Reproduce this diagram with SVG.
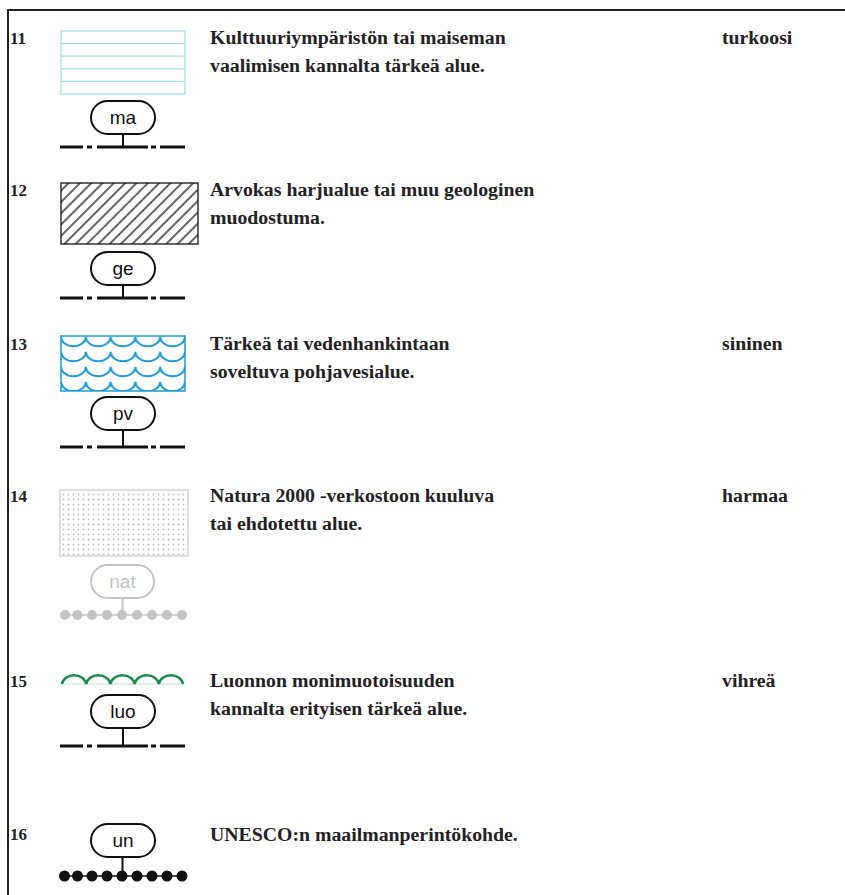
<svg xmlns="http://www.w3.org/2000/svg" width="845" height="895" viewBox="0 0 845 895">
<style>
.t{font-family:"Liberation Serif",serif;font-weight:bold;font-size:19.8px;fill:#222}
.n{font-family:"Liberation Serif",serif;font-weight:bold;font-size:17px;fill:#222}
.p{font-family:"Liberation Sans",Arial,sans-serif;font-size:19px;fill:#111;text-anchor:middle}
.pill{fill:#fff;stroke:#111;stroke-width:2}
.stem{stroke:#111;stroke-width:2}
.dd{stroke:#111;stroke-width:3;fill:none}
</style>
<defs>
<pattern id="hatch" patternUnits="userSpaceOnUse" width="8" height="8" patternTransform="rotate(45)">
<line x1="2" y1="-1" x2="2" y2="9" stroke="#111" stroke-width="1.3"/>
</pattern>
<pattern id="wave" patternUnits="userSpaceOnUse" x="61" y="336" width="24.8" height="15">
<path d="M0 0.8 A12.4 9.5 0 0 0 24.8 0.8" fill="none" stroke="#1e9ad6" stroke-width="2"/>
</pattern>
<pattern id="dots" patternUnits="userSpaceOnUse" x="61" y="492" width="5" height="5">
<circle cx="2.5" cy="2.5" r="0.9" fill="#bdbdbd"/>
</pattern>
</defs>
<rect width="845" height="895" fill="#fff"/>
<g id="frame" stroke="#222" fill="none">
<line x1="8" y1="10" x2="845" y2="10" stroke-width="2"/>
<line x1="8" y1="9" x2="8" y2="895" stroke-width="2"/>
</g>

<g id="row11">
<text class="n" x="10" y="44">11</text>
<rect x="61" y="31" width="124" height="63" fill="#fff" stroke="#a8dde2" stroke-width="1.3"/>
<g stroke="#a8dde2" stroke-width="1.3"><line x1="61" y1="43.6" x2="185" y2="43.6"/><line x1="61" y1="56.2" x2="185" y2="56.2"/><line x1="61" y1="68.8" x2="185" y2="68.8"/><line x1="61" y1="81.4" x2="185" y2="81.4"/></g>
<rect class="pill" x="91" y="101" width="64" height="33" rx="16.5"/>
<text class="p" x="123" y="124">ma</text>
<line class="stem" x1="123" y1="134" x2="123" y2="147"/>
<path class="dd" d="M60 147H83M87 147H92M97 147H148M151 147H156M160 147H185"/>
<text class="t" x="210" y="44">Kulttuuriympäristön tai maiseman</text>
<text class="t" x="210" y="72">vaalimisen kannalta tärkeä alue.</text>
<text class="t" x="722" y="44">turkoosi</text>
</g>

<g id="row12">
<text class="n" x="10" y="196">12</text>
<rect x="61" y="183" width="137" height="61" fill="url(#hatch)" stroke="#111" stroke-width="1.3"/>
<rect class="pill" x="91" y="252" width="64" height="33" rx="16.5"/>
<text class="p" x="123" y="275">ge</text>
<line class="stem" x1="123" y1="285" x2="123" y2="298"/>
<path class="dd" d="M60 298H83M87 298H92M97 298H148M151 298H156M160 298H185"/>
<text class="t" x="210" y="196">Arvokas harjualue tai muu geologinen</text>
<text class="t" x="210" y="224">muodostuma.</text>
</g>

<g id="row13">
<text class="n" x="10" y="350">13</text>
<rect x="61" y="336" width="124" height="55" fill="url(#wave)" stroke="#1e9ad6" stroke-width="1.5"/>
<rect class="pill" x="91" y="397" width="64" height="33" rx="16.5"/>
<text class="p" x="123" y="420">pv</text>
<line class="stem" x1="123" y1="430" x2="123" y2="447"/>
<path class="dd" d="M60 447H83M87 447H92M97 447H148M151 447H156M160 447H185"/>
<text class="t" x="210" y="350">Tärkeä tai vedenhankintaan</text>
<text class="t" x="210" y="378">soveltuva pohjavesialue.</text>
<text class="t" x="722" y="350">sininen</text>
</g>

<g id="row14">
<text class="n" x="10" y="502">14</text>
<rect x="60" y="490" width="128" height="66" fill="url(#dots)" stroke="#cfcfcf" stroke-width="1.3"/>
<rect x="91" y="565" width="63" height="33" rx="16.5" fill="#fff" stroke="#c4c4c4" stroke-width="2"/>
<text class="p" x="122.5" y="588" style="fill:#c4c4c4">nat</text>
<line x1="122.5" y1="598" x2="122.5" y2="615" stroke="#c4c4c4" stroke-width="2"/>
<line x1="65" y1="615" x2="182" y2="615" stroke="#c4c4c4" stroke-width="1.5"/>
<g fill="#c4c4c4"><circle cx="65" cy="615" r="5"/><circle cx="77.5" cy="615" r="5"/><circle cx="92" cy="615" r="5"/><circle cx="107" cy="615" r="5"/><circle cx="122" cy="615" r="5"/><circle cx="137" cy="615" r="5"/><circle cx="152" cy="615" r="5"/><circle cx="167" cy="615" r="5"/><circle cx="182" cy="615" r="5"/></g>
<text class="t" x="210" y="502">Natura 2000 -verkostoon kuuluva</text>
<text class="t" x="210" y="530">tai ehdotettu alue.</text>
<text class="t" x="722" y="502">harmaa</text>
</g>

<g id="row15">
<text class="n" x="10" y="687">15</text>
<line x1="62" y1="684" x2="183" y2="684" stroke="#a9dbbd" stroke-width="0.8"/>
<path d="M62 684A12.2 10 0 0 1 86.2 684A12.2 10 0 0 1 110.4 684A12.2 10 0 0 1 134.6 684A12.2 10 0 0 1 158.8 684A12.2 10 0 0 1 183 684" fill="none" stroke="#1a8c4e" stroke-width="2.6"/>
<rect class="pill" x="91" y="695" width="64" height="33" rx="16.5"/>
<text class="p" x="123" y="718">luo</text>
<line class="stem" x1="123" y1="728" x2="123" y2="746"/>
<path class="dd" d="M60 746H83M87 746H92M97 746H148M151 746H156M160 746H185"/>
<text class="t" x="210" y="687">Luonnon monimuotoisuuden</text>
<text class="t" x="210" y="715">kannalta erityisen tärkeä alue.</text>
<text class="t" x="722" y="687">vihreä</text>
</g>

<g id="row16">
<text class="n" x="10" y="840">16</text>
<rect class="pill" x="91" y="824" width="64" height="33" rx="16.5"/>
<text class="p" x="123" y="847">un</text>
<line class="stem" x1="122.5" y1="857" x2="122.5" y2="876"/>
<line x1="64" y1="876" x2="182" y2="876" stroke="#111" stroke-width="1.5"/>
<g fill="#111"><circle cx="64.5" cy="876" r="5.5"/><circle cx="77.5" cy="876" r="5.5"/><circle cx="92" cy="876" r="5.5"/><circle cx="107" cy="876" r="5.5"/><circle cx="122" cy="876" r="5.5"/><circle cx="137" cy="876" r="5.5"/><circle cx="152" cy="876" r="5.5"/><circle cx="167" cy="876" r="5.5"/><circle cx="182" cy="876" r="5.5"/></g>
<text class="t" x="210" y="841">UNESCO:n maailmanperintökohde.</text>
</g>
</svg>
